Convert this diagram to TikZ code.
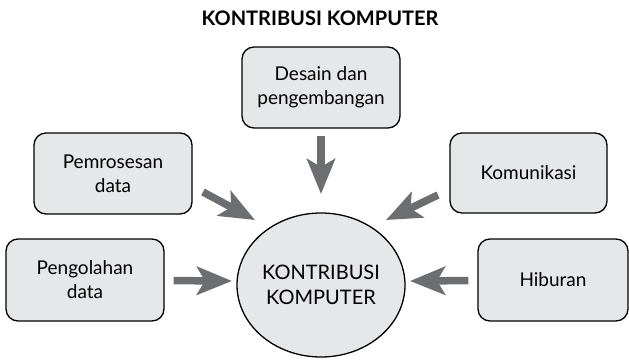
\documentclass[tikz,border=0pt]{standalone}
\usepackage{fontspec}
\setmainfont{Lato}
\usetikzlibrary{shapes.geometric,arrows.meta}
\definecolor{boxfill}{HTML}{E6E7E8}
\definecolor{arrowgray}{HTML}{6D6E71}
\begin{document}
\begin{tikzpicture}[x=1pt,y=-1pt,
  box/.style={draw=black, line width=1.3pt, fill=boxfill, rounded corners=12pt,
    align=center, inner sep=0pt, font=\fontsize{19}{24}\selectfont},
  hub/.style={ellipse, draw=black, line width=1.3pt, fill=boxfill, align=center,
    inner sep=0pt, font=\fontsize{20}{25}\selectfont},
  feed/.style={draw=arrowgray, line width=7.5pt,
    -{Stealth[length=35pt,width=28pt,inset=8pt]}},
]
\useasboundingbox (0,0) rectangle (629,359);

% heading
\node[font=\fontsize{20}{24}\selectfont\bfseries] (title) at (320,18) {KONTRIBUSI KOMPUTER};

% central hub
\node[hub, minimum width=168pt, minimum height=144pt] (hub) at (321,285)
  {KONTRIBUSI\\KOMPUTER};

% surrounding contributions
\node[box, minimum width=158pt, minimum height=81pt] (desain) at (321,87.5)
  {Desain dan\\pengembangan};
\node[box, minimum width=158pt, minimum height=81pt] (pemro) at (113,173.5)
  {Pemrosesan\\data};
\node[box, minimum width=157pt, minimum height=80pt] (komun) at (528.5,173)
  {Komunikasi};
\node[box, minimum width=158pt, minimum height=82pt] (pengol) at (85,280)
  {Pengolahan\\data};
\node[box, minimum width=150pt, minimum height=82pt] (hibur) at (553,280)
  {Hiburan};

% arrow tips and the starts of the slanted arrows
\coordinate (t1) at (321,194);
\coordinate (t2) at (255,220);
\coordinate (t3) at (386,220);
\coordinate (t4) at (232,281);
\coordinate (t5) at (410,281);
\coordinate (s2) at (203,192);
\coordinate (s3) at (438,195);

% arrows into the hub
\draw[feed, shorten <=7pt] (desain) -- (t1);
\draw[feed] (s2) -- (t2);
\draw[feed] (s3) -- (t3);
\draw[feed, shorten <=9pt] (pengol) -- (t4);
\draw[feed, shorten <=9pt] (hibur) -- (t5);
\end{tikzpicture}
\end{document}
